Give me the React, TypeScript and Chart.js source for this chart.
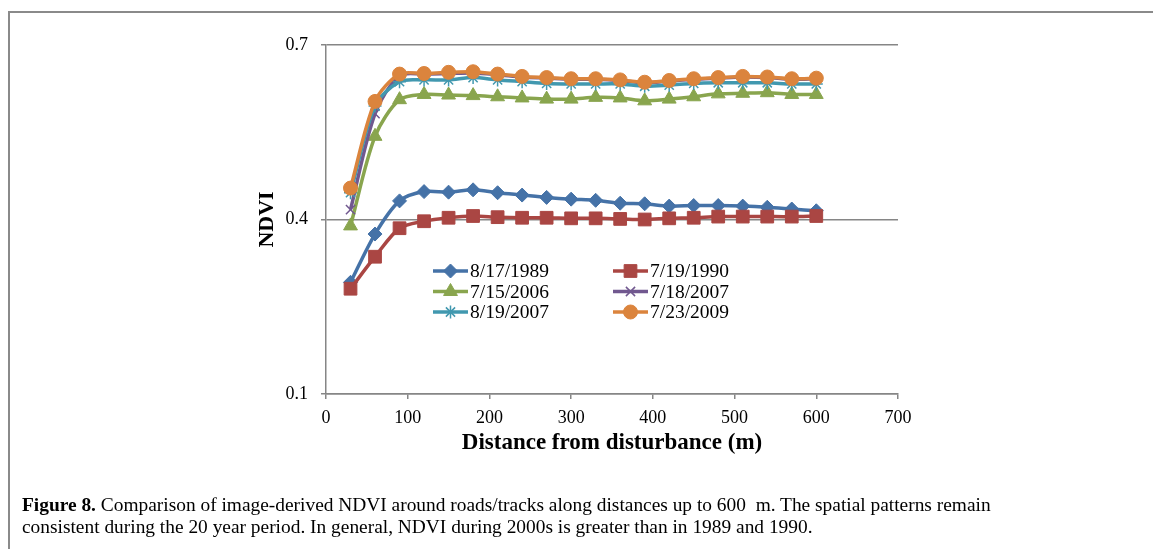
import React, { useEffect, useRef } from "react";
import { Chart, registerables } from "chart.js";
import { drawPoint } from "chart.js/helpers";

Chart.register(...registerables);

const distances = [30, 60, 90, 120, 150, 180, 210, 240, 270, 300, 330, 360, 390, 420, 450, 480, 510, 540, 570, 600];

const seriesLabels = ["8/17/1989", "7/19/1990", "7/15/2006", "7/18/2007", "8/19/2007", "7/23/2009"];

const ndvi19890817 = [0.292, 0.375, 0.432, 0.448, 0.447, 0.451, 0.446, 0.442, 0.438, 0.435, 0.433, 0.428, 0.427, 0.423, 0.424, 0.424, 0.423, 0.421, 0.418, 0.415];
const ndvi19900719 = [0.281, 0.336, 0.385, 0.397, 0.403, 0.406, 0.404, 0.403, 0.403, 0.402, 0.402, 0.401, 0.400, 0.402, 0.403, 0.405, 0.405, 0.405, 0.405, 0.406];
const ndvi20060715 = [0.389, 0.543, 0.606, 0.615, 0.614, 0.613, 0.611, 0.609, 0.607, 0.607, 0.610, 0.609, 0.604, 0.607, 0.611, 0.616, 0.617, 0.618, 0.615, 0.615];
const ndvi20070718 = [0.417, 0.582, 0.647, 0.650, 0.651, 0.652, 0.649, 0.645, 0.643, 0.641, 0.641, 0.639, 0.635, 0.638, 0.641, 0.643, 0.645, 0.644, 0.641, 0.642];
const ndvi20070819 = [0.446, 0.595, 0.637, 0.640, 0.640, 0.644, 0.640, 0.637, 0.634, 0.633, 0.633, 0.633, 0.629, 0.631, 0.634, 0.635, 0.635, 0.635, 0.633, 0.633];
const ndvi20090723 = [0.454, 0.603, 0.650, 0.651, 0.653, 0.654, 0.650, 0.646, 0.644, 0.642, 0.642, 0.640, 0.636, 0.639, 0.642, 0.644, 0.646, 0.645, 0.642, 0.643];

const seriesValues = [ndvi19890817, ndvi19900719, ndvi20060715, ndvi20070718, ndvi20070819, ndvi20090723];
const seriesColors = ["#4572A7", "#AA4643", "#89A54E", "#71588F", "#4198AF", "#DB843D"];
const seriesMarkers = ["rectRot", "rect", "triangle", "crossRot", "star", "circle"];
const markerRadii = [7, 9, 8, 6.5, 6.5, 7];

const yTicks = [0.1, 0.4, 0.7];
const xTicks = [0, 100, 200, 300, 400, 500, 600, 700];

const FONT = "'Liberation Serif', 'Times New Roman', serif";
const GRID = "#868686";

const gridLegend = {
  id: "gridLegend",
  afterDatasetsDraw(chart: any) {
    const ctx = chart.ctx;
    const area = chart.chartArea;
    chart.data.datasets.forEach((ds: any, i: number) => {
      const col = i % 2;
      const row = Math.floor(i / 2);
      const x0 = area.left + 107 + col * 180;
      const y = area.top + 226 + row * 20.5;
      ctx.save();
      ctx.strokeStyle = ds.borderColor;
      ctx.lineWidth = 3.5;
      ctx.beginPath();
      ctx.moveTo(x0, y);
      ctx.lineTo(x0 + 35, y);
      ctx.stroke();
      ctx.fillStyle = ds.pointBackgroundColor;
      ctx.strokeStyle = ds.pointBorderColor;
      ctx.lineWidth = ds.pointBorderWidth;
      drawPoint(ctx, { pointStyle: ds.pointStyle, rotation: 0, radius: ds.pointRadius, borderWidth: ds.pointBorderWidth }, x0 + 17.5, y);
      ctx.fillStyle = "#000";
      ctx.font = `19.5px ${FONT}`;
      ctx.textBaseline = "middle";
      ctx.textAlign = "left";
      ctx.fillText(ds.label, x0 + 37, y + 1);
      ctx.restore();
    });
  },
};

export default function App() {
  const canvasRef = useRef<HTMLCanvasElement | null>(null);

  useEffect(() => {
    if (!canvasRef.current) return;
    const datasets = seriesLabels.map((label, i) => ({
      label,
      data: distances.map((d, j) => ({ x: d, y: seriesValues[i][j] })),
      borderColor: seriesColors[i],
      backgroundColor: seriesColors[i],
      pointBackgroundColor: seriesColors[i],
      pointBorderColor: seriesColors[i],
      pointBorderWidth: seriesMarkers[i] === "crossRot" || seriesMarkers[i] === "star" ? 1.5 : 1,
      pointStyle: seriesMarkers[i],
      pointRadius: markerRadii[i],
      borderWidth: 3.5,
      tension: 0.3,
      fill: false,
      order: seriesLabels.length - i,
    }));

    const chart = new Chart(canvasRef.current, {
      type: "line",
      data: { datasets },
      plugins: [gridLegend],
      options: {
        responsive: false,
        animation: false,
        devicePixelRatio: 1,
        layout: { padding: { left: 250, top: 45, right: 255, bottom: 90 } },
        plugins: {
          legend: { display: false },
          tooltip: { enabled: false },
          title: { display: false },
        },
        scales: {
          x: {
            type: "linear",
            min: 0,
            max: 700,
            afterBuildTicks: (s: any) => { s.ticks = xTicks.map((v) => ({ value: v })); },
            afterFit: (s: any) => { s.height = 65; },
            ticks: {
              color: "#000",
              font: { family: FONT, size: 18 },
              padding: 8,
              maxRotation: 0,
              autoSkip: false,
            },
            grid: { drawOnChartArea: false, drawTicks: true, tickLength: 5, color: GRID, lineWidth: 1.5 },
            border: { color: GRID, width: 1.5 },
            title: {
              display: true,
              text: "Distance from disturbance (m)",
              color: "#000",
              font: { family: FONT, size: 23, weight: "bold" },
              padding: { top: 0, bottom: 2 },
            },
          },
          y: {
            type: "linear",
            min: 0.1,
            max: 0.7,
            afterBuildTicks: (s: any) => { s.ticks = yTicks.map((v) => ({ value: v })); },
            afterFit: (s: any) => { s.width = 76; },
            ticks: {
              color: "#000",
              font: { family: FONT, size: 18 },
              padding: 13,
              callback: (v: any) => Number(v).toFixed(1),
            },
            grid: { drawTicks: true, tickLength: 5, color: GRID, lineWidth: 1.5 },
            border: { color: GRID, width: 1.5 },
            title: {
              display: true,
              text: "NDVI",
              color: "#000",
              font: { family: FONT, size: 22, weight: "bold" },
              padding: { top: 4, bottom: 0 },
            },
          },
        },
      },
    } as any);
    return () => chart.destroy();
  }, []);

  return (
    <div style={{ position: "absolute", left: 0, top: 0, width: 1153, height: 549, background: "#fff", overflow: "hidden" }}>
      <div style={{ position: "absolute", left: 8, top: 11, right: 0, height: 2, background: "#8a8a8a" }} />
      <div style={{ position: "absolute", left: 8, top: 11, bottom: 0, width: 2, background: "#8a8a8a" }} />
      <canvas ref={canvasRef} width={1153} height={549} style={{ position: "absolute", left: 0, top: 0, display: "block" }} />
      <div
        style={{
          position: "absolute",
          left: 22,
          top: 494,
          width: 1120,
          fontFamily: FONT,
          fontSize: 19.4,
          lineHeight: "22px",
          color: "#000",
          whiteSpace: "nowrap",
        }}
      >
        <div><b>Figure 8.</b> Comparison of image-derived NDVI around roads/tracks along distances up to 600&nbsp; m. The spatial patterns remain</div>
        <div>consistent during the 20 year period. In general, NDVI during 2000s is greater than in 1989 and 1990.</div>
      </div>
    </div>
  );
}
